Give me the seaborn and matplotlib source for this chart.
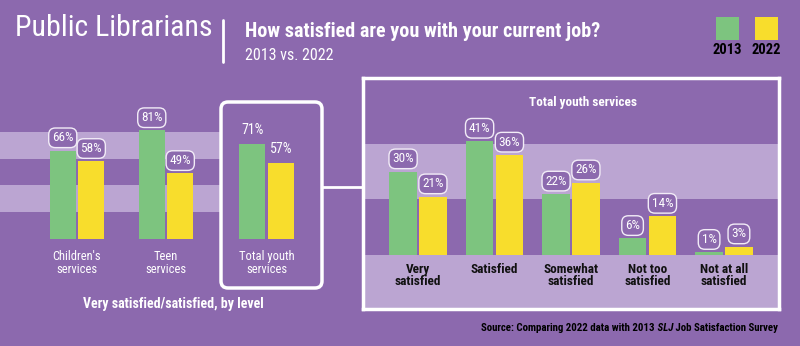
import matplotlib
matplotlib.use("Agg")
import matplotlib.pyplot as plt
import seaborn as sns
import pandas as pd
from matplotlib.patches import FancyBboxPatch, Rectangle
from matplotlib.lines import Line2D

# ---------------- data ----------------
years = ["2013", "2022"]
level_cats = ["Children's\nservices", "Teen\nservices"]
level_2013 = [66, 81]
level_2022 = [58, 49]
total_cat = ["Total youth\nservices"]
total_2013 = [71]
total_2022 = [57]
detail_cats = ["Very\nsatisfied", "Satisfied", "Somewhat\nsatisfied",
               "Not too\nsatisfied", "Not at all\nsatisfied"]
detail_2013 = [30, 41, 22, 6, 1]
detail_2022 = [21, 36, 26, 14, 3]

BG = "#8c69ae"
BAND = "#bba5d2"
GREEN = "#7dc47f"
YELLOW = "#f8dd2c"

sns.set_style("white")
plt.rcParams["font.family"] = ["Roboto Condensed", "DejaVu Sans"]
plt.rcParams["font.stretch"] = "condensed"

W, H = 800, 346
fig = plt.figure(figsize=(8, 3.46), dpi=100, facecolor=BG)


def fx(x):
    return x / W


def fy(y):
    return 1 - y / H


def px_axes(x0, y0, x1, y1):
    ax = fig.add_axes([x0 / W, (H - y1) / H, (x1 - x0) / W, (y1 - y0) / H])
    ax.set_facecolor("none")
    return ax


def long_df(cats, a, b):
    return pd.DataFrame({
        "cat": list(cats) * 2,
        "year": [years[0]] * len(cats) + [years[1]] * len(cats),
        "val": list(a) + list(b),
    })


def bars(ax, df, width, gap):
    sns.barplot(data=df, x="cat", y="val", hue="year", hue_order=years,
                palette=[GREEN, YELLOW], saturation=1, width=width, gap=gap,
                ax=ax, legend=False, errorbar=None, linewidth=0)
    for sp in ax.spines.values():
        sp.set_visible(False)
    ax.set_xlabel("")
    ax.set_ylabel("")
    ax.set_yticks([])


def value_labels(ax, boxed=True, size=8.5, offset=5):
    for cont in ax.containers:
        for bar in cont:
            v = bar.get_height()
            kw = {}
            if boxed:
                kw["bbox"] = dict(boxstyle="round,pad=0.25,rounding_size=0.5",
                                  fc=BG, ec="#f2ecf7", lw=1.0)
            ax.annotate(f"{v:.0f}%", (bar.get_x() + bar.get_width() / 2, v),
                        xytext=(0, offset), textcoords="offset points",
                        ha="center", va="bottom", color="white", fontsize=size,
                        annotation_clip=False, **kw)


# ---------------- left panel: by level ----------------
unit = 89.0
ax1 = px_axes(0, 105, 220, 239)
bars(ax1, long_df(level_cats, level_2013, level_2022), 0.64, 0.1)
ax1.set_ylim(0, 100)
ax1.set_xlim(-77 / unit, 1 + 54 / unit)
ax1.axhspan(20, 40, color=BAND, zorder=0, lw=0)
ax1.axhspan(60, 80, color=BAND, zorder=0, lw=0)
ax1.tick_params(axis="x", colors="white", length=0, pad=8, labelsize=9)
for t in ax1.get_xticklabels():
    t.set_linespacing(1.0)
value_labels(ax1, boxed=True, size=9.5, offset=4.5)

ax2 = px_axes(220, 105, 322, 239)
bars(ax2, long_df(total_cat, total_2013, total_2022), 0.64, 0.1)
ax2.set_ylim(0, 100)
ax2.set_xlim(-46.5 / unit, 55.5 / unit)
ax2.tick_params(axis="x", colors="white", length=0, pad=8, labelsize=9)
for t in ax2.get_xticklabels():
    t.set_linespacing(1.0)
value_labels(ax2, boxed=False, size=10, offset=5)

box = FancyBboxPatch((2.21, (H - 288) / 100), 1.01, 1.86,
                     boxstyle="round,pad=0,rounding_size=0.07",
                     transform=fig.dpi_scale_trans, fc="none", ec="white", lw=2.5)
fig.add_artist(box)
fig.add_artist(Line2D([fx(322), fx(363)], [fy(187), fy(187)], color="white",
                      lw=2, transform=fig.transFigure))

fig.text(fx(173), fy(308), "Very satisfied/satisfied, by level", ha="center",
         va="baseline", color="white", fontsize=10, fontweight="bold")

# ---------------- right panel: detail ----------------
ax3 = px_axes(363, 78, 779, 309)
bars(ax3, long_df(detail_cats, detail_2013, detail_2022), 0.78, 0.08)
ylo = -(309 - 255) / 2.78
yhi = (255 - 78) / 2.78
ax3.set_ylim(ylo, yhi)
ax3.set_xlim(-0.719, 4.719)
ax3.set_xticks([])
ax3.axhspan(20, 40, color=BAND, zorder=0, lw=0)
ax3.axhspan(ylo, 0, color=BAND, zorder=0, lw=0)
for sp in ax3.spines.values():
    sp.set_visible(True)
    sp.set_color("white")
    sp.set_linewidth(2.5)
for i, c in enumerate(detail_cats):
    ax3.text(i, -2.8, c, ha="center", va="top", color="#111111",
             fontsize=9.5, fontweight="bold", linespacing=0.95)
ax3.text(0.529, 0.892, "Total youth services", transform=ax3.transAxes,
         ha="center", va="center", color="white", fontsize=9.5, fontweight="bold")
value_labels(ax3, boxed=True, size=9.5, offset=4.5)

# ---------------- header ----------------
fig.text(fx(15), fy(36), "Public Librarians", ha="left", va="baseline",
         color="white", fontsize=21.5)
fig.add_artist(Line2D([fx(223), fx(223)], [fy(20), fy(62)], color="white",
                      lw=2, transform=fig.transFigure))
fig.text(fx(245), fy(37), "How satisfied are you with your current job?",
         ha="left", va="baseline", color="white", fontsize=14.5, fontweight="bold")
fig.text(fx(245), fy(60), "2013 vs. 2022", ha="left", va="baseline",
         color="white", fontsize=11.5)

for xc, col, lab in [(727.5, GREEN, years[0]), (766, YELLOW, years[1])]:
    fig.add_artist(Rectangle((fx(xc - 11.5), fy(40)), 23 / W, 23 / H,
                             transform=fig.transFigure, fc=col, ec="none"))
    fig.text(fx(xc), fy(54), lab, ha="center", va="baseline", color="black",
             fontsize=10.5, fontweight="bold")

# ---------------- source ----------------
t3 = fig.text(fx(778), fy(331), " Job Satisfaction Survey", ha="right",
              va="baseline", color="black", fontsize=7.8, fontweight="bold")
t2 = ax3.annotate(" SLJ", xy=(0, 0), xycoords=t3, ha="right", va="bottom",
                  color="black", fontsize=7.8, fontweight="bold", style="italic",
                  annotation_clip=False)
t1 = ax3.annotate("Source: Comparing 2022 data with 2013", xy=(0, 0), xycoords=t2,
                  ha="right", va="bottom", color="black", fontsize=7.8,
                  fontweight="bold", annotation_clip=False)

fig.savefig("out.png", dpi=100, facecolor=BG)
